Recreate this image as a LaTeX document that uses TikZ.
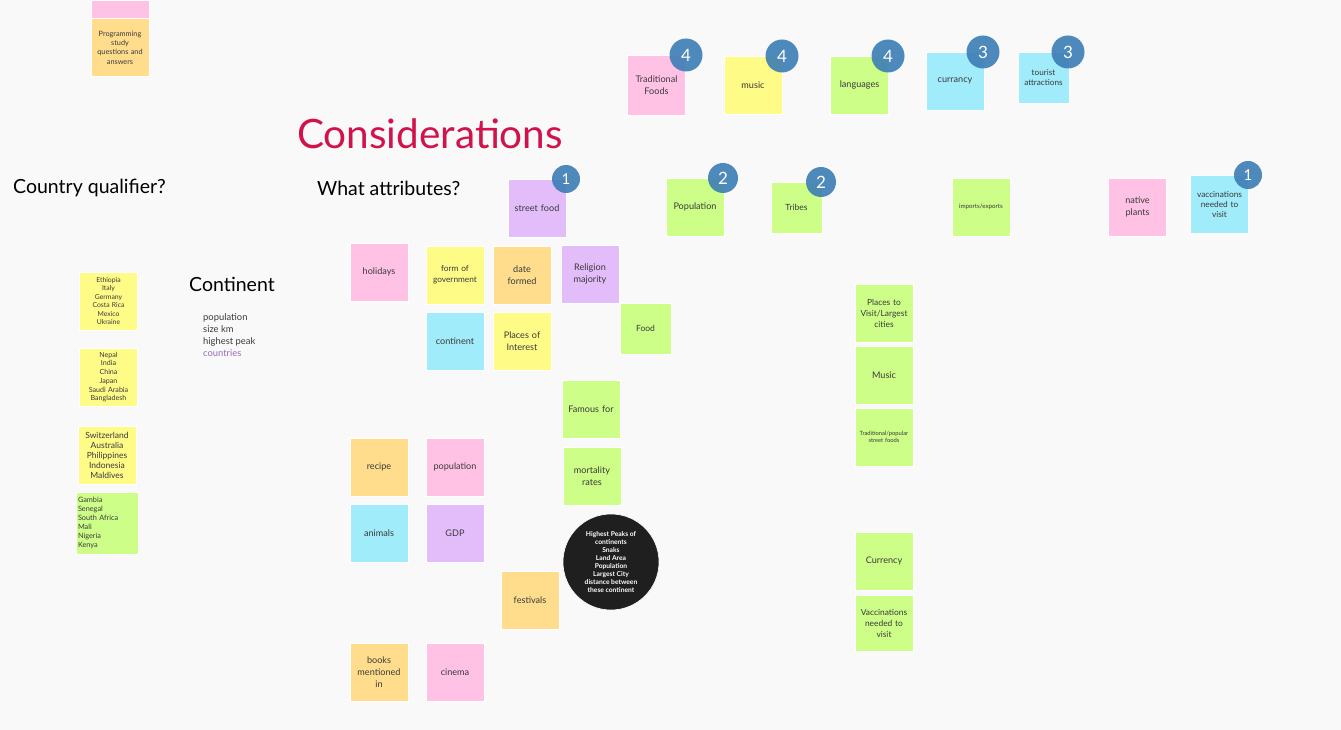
\documentclass[tikz,border=0pt]{standalone}
\usepackage{fontspec}
\setmainfont{Lato}
\definecolor{bgc}{HTML}{F9F9F9}
\definecolor{pinkc}{HTML}{FFC2E5}
\definecolor{orangec}{HTML}{FFDD8D}
\definecolor{yellowc}{HTML}{FFFB87}
\definecolor{greenc}{HTML}{CDFE88}
\definecolor{cyanc}{HTML}{A0ECFA}
\definecolor{purplec}{HTML}{E2BDFA}
\definecolor{badgec}{HTML}{3C7DB5}
\definecolor{titlec}{HTML}{D0144B}
\definecolor{txtc}{HTML}{3A3A3A}
\definecolor{linkc}{HTML}{9A6BB8}
\definecolor{darkc}{HTML}{1F1F1F}
\tikzset{
  sticky/.style={draw=white, line width=0.6pt, minimum width=58pt, minimum height=58pt, inner sep=1pt,
    align=center, text width=56pt, font=\fontsize{9.1}{12}\selectfont, text=txtc},
  smallsticky/.style={sticky, minimum width=51pt, minimum height=51pt, text width=49pt},
  badge/.style={circle, fill=badgec, fill opacity=0.9, text opacity=1, minimum size=33pt, inner sep=0pt,
    text=white, font=\fontsize{17}{17}\selectfont},
  heading/.style={font=\fontsize{19.5}{22}\selectfont, text=black, anchor=west, inner sep=0pt},
}
\begin{document}
\begin{tikzpicture}[x=1pt,y=-1pt]
\useasboundingbox[fill=bgc] (0,0) rectangle (1341,730);

% top-left stickies
\node[sticky, fill=pinkc, minimum height=19pt] (ptop) at (120,9.5) {};
\node[sticky, fill=orangec, font=\fontsize{7.3}{9.3}\selectfont] (prog) at (120,47.5) {Programming\\study\\questions and\\answers};

% headings
\node[font=\fontsize{40.5}{44}\selectfont, text=titlec, anchor=west, inner sep=0pt] (title) at (297,134) {Considerations};
\node[heading] (cq) at (13,188) {Country qualifier?};
\node[heading] (wa) at (317,188) {What attributes?};
\node[heading] (cont) at (189,284) {Continent};
\node[anchor=north west, inner sep=0pt, align=left, font=\fontsize{9.4}{12}\selectfont, text=txtc] (contlist) at (203,313)
  {population\\size km\\highest peak\\\textcolor{linkc}{countries}};

% top row with badges
\node[sticky, fill=pinkc, minimum height=60pt] (tf) at (656.5,85) {Traditional\\Foods};
\node[sticky, fill=yellowc] (mus) at (753,85) {music};
\node[sticky, fill=greenc] (lang) at (859.5,85) {languages};
\node[sticky, fill=cyanc] (cur) at (955,81) {currancy};
\node[smallsticky, fill=cyanc, font=\fontsize{8.2}{9.5}\selectfont] (tour) at (1043.5,77.5) {tourist\\attractions};

% second row
\node[sticky, fill=purplec] (sf) at (537,208) {street food};
\node[sticky, fill=greenc] (pop1) at (695,207) {Population};
\node[smallsticky, fill=greenc, font=\fontsize{8.5}{10}\selectfont] (tri) at (796.5,207.5) {Tribes};
\node[sticky, fill=greenc, font=\fontsize{6.2}{7}\selectfont] (imp) at (981,207) {imports/exports};
\node[sticky, fill=pinkc] (nat) at (1137.5,207) {native\\plants};
\node[sticky, fill=cyanc, font=\fontsize{8.3}{10}\selectfont] (vac1) at (1219.5,204) {vaccinations\\needed to\\visit};

% badges
\node[badge] (b1) at (686,55) {4};
\node[badge] (b2) at (782,56) {4};
\node[badge] (b3) at (888,56) {4};
\node[badge] (b4) at (983,52) {3};
\node[badge] (b5) at (1068,52) {3};
\node[badge, minimum size=28pt, font=\fontsize{15}{15}\selectfont] (b6) at (566,179) {1};
\node[badge, minimum size=30pt] (b7) at (723,178) {2};
\node[badge, minimum size=30pt] (b8) at (821,182) {2};
\node[badge, minimum size=28pt, font=\fontsize{15}{15}\selectfont] (b9) at (1248,175) {1};

% country lists
\node[sticky, fill=yellowc, font=\fontsize{6.8}{8.5}\selectfont] (eth) at (108.5,301) {Ethiopia\\Italy\\Germany\\Costa Rica\\Mexico\\Ukraine};
\node[sticky, fill=yellowc, font=\fontsize{7.1}{8.7}\selectfont] (nep) at (108.5,377) {Nepal\\India\\China\\Japan\\Saudi Arabia\\Bangladesh};
\node[sticky, fill=yellowc, font=\fontsize{8.5}{10}\selectfont] (swi) at (107,455) {Switzerland\\Australia\\Philippines\\Indonesia\\Maldives};
\node[sticky, fill=greenc, minimum width=62pt, minimum height=62pt, text width=58pt, align=left, font=\fontsize{7.3}{9}\selectfont] (gam) at (107,523) {Gambia\\Senegal\\South Africa\\Mali\\Nigeria\\Kenya};

% attribute grid
\node[sticky, fill=pinkc] (hol) at (379,272) {holidays};
\node[sticky, fill=yellowc, font=\fontsize{8.3}{11}\selectfont] (gov) at (455,275) {form of\\government};
\node[sticky, fill=orangec] (date) at (522,275) {date\\formed};
\node[sticky, fill=purplec] (rel) at (590,274) {Religion\\majority};
\node[smallsticky, fill=greenc, font=\fontsize{8.5}{10}\selectfont] (food) at (645.5,328.5) {Food};
\node[sticky, fill=cyanc] (con) at (455,341) {continent};
\node[sticky, fill=yellowc] (poi) at (522,341) {Places of\\Interest};
\node[sticky, fill=greenc] (fam) at (591,409) {Famous for};
\node[sticky, fill=greenc] (mor) at (592,476) {mortality\\rates};
\node[sticky, fill=orangec] (rec) at (379,467) {recipe};
\node[sticky, fill=pinkc] (pop2) at (455,467) {population};
\node[sticky, fill=cyanc] (ani) at (379,533) {animals};
\node[sticky, fill=purplec] (gdp) at (455,533) {GDP};
\node[sticky, fill=orangec] (fest) at (530,600) {festivals};
\node[sticky, fill=orangec] (book) at (379,672) {books\\mentioned\\in};
\node[sticky, fill=pinkc] (cin) at (455,672) {cinema};
\node[circle, fill=darkc, draw=white, line width=0.6pt, minimum size=96pt, inner sep=0pt, align=center, text=white,
  font=\fontsize{6.7}{8.1}\selectfont\bfseries] (circ) at (611,562)
  {Highest Peaks of\\continents\\Snaks\\Land Area\\Population\\Largest City\\distance between\\these continent};

% right column
\node[sticky, fill=greenc, font=\fontsize{8.4}{11}\selectfont] (ptv) at (884,313) {Places to\\Visit/Largest\\cities};
\node[sticky, fill=greenc] (mus2) at (884,375) {Music};
\node[sticky, fill=greenc, font=\fontsize{5.8}{7}\selectfont] (trad) at (884,437) {Traditional/popular\\street foods};
\node[sticky, fill=greenc] (cur2) at (884,561) {Currency};
\node[sticky, fill=greenc, minimum width=56pt, minimum height=56pt, font=\fontsize{8.4}{11}\selectfont] (vac2) at (884,623) {Vaccinations\\needed to\\visit};
\end{tikzpicture}
\end{document}
